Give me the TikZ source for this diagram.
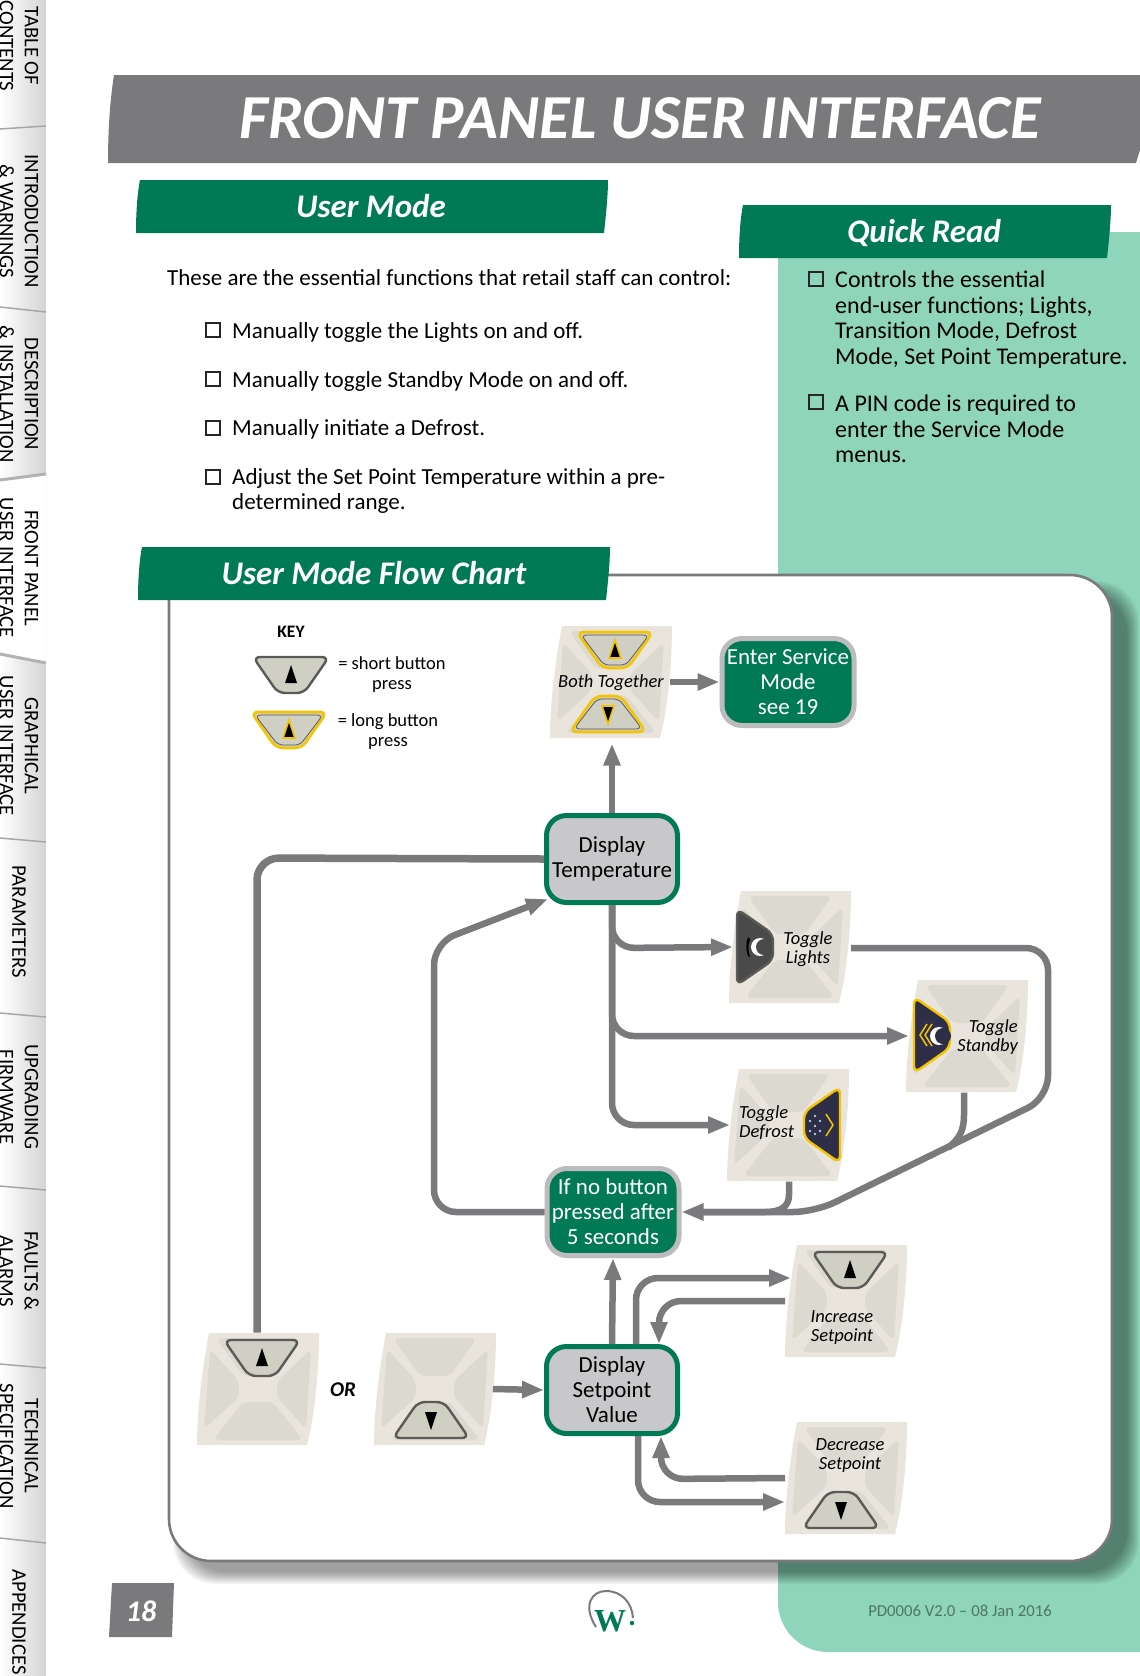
\documentclass[tikz,border=0pt]{standalone}
\usepackage{fontspec}
\setmainfont{Carlito}
\newfontfamily\logofont{Liberation Serif}
\usetikzlibrary{arrows.meta}

\definecolor{wgreen}{HTML}{007A54}
\definecolor{wmint}{HTML}{8FD5BB}
\definecolor{wgrey}{HTML}{7A7A7C}
\definecolor{wbox}{HTML}{C8C8CA}
\definecolor{wrim}{HTML}{BCBCBC}
\definecolor{padbeige}{HTML}{E9E5DC}
\definecolor{padgrey}{HTML}{DCDAD0}
\definecolor{keyface}{HTML}{CFCFC4}
\definecolor{keyrim}{HTML}{5A5A56}
\definecolor{keygold}{HTML}{F5C400}
\definecolor{keynavy}{HTML}{2E2E48}
\definecolor{keydark}{HTML}{4A4A4A}

\tikzset{
  pics/padbase/.style={code={
    \fill[padbeige] (-49,-56) .. controls (-55,-25) and (-61,20) .. (-61,56) -- (49,56) .. controls (57,25) and (61,-20) .. (61,-56) -- cycle;
    \fill[padgrey, rounded corners=6pt] (-42,-51) -- (42,-51) -- (15,-13) -- (-15,-13) -- cycle;
    \fill[padgrey, rounded corners=6pt] (-45,51) -- (45,51) -- (15,13) -- (-15,13) -- cycle;
    \fill[padgrey, rounded corners=6pt] (-48,-40) -- (-19,-8) -- (-19,8) -- (-54,40) -- cycle;
    \fill[padgrey, rounded corners=6pt] (53,-40) -- (19,-8) -- (19,8) -- (48,40) -- cycle;
  }},
  pics/shortkey/.style={code={
    \draw[draw=keyrim, line width=2.4pt, fill=keyface, rounded corners=7pt] (-38,-18) -- (38,-18) -- (13,18) -- (-13,18) -- cycle;
    \fill[black] (0,-10) -- (6,8) -- (-6,8) -- cycle;
  }},
  pics/longkey/.style={code={
    \draw[draw=keygold, line width=2.6pt, fill=keyface, rounded corners=7pt] (-38,-18) -- (38,-18) -- (13,18) -- (-13,18) -- cycle;
    \draw[draw=keyrim, line width=.8pt, rounded corners=5pt] (-34,-15) -- (34,-15) -- (11,15) -- (-11,15) -- cycle;
    \fill[black, draw=keygold, line width=1.6pt] (0,-10) -- (6,8) -- (-6,8) -- cycle;
  }},
  pics/sidekey/.style n args={2}{code={
    \draw[draw=#1, line width=2.4pt, fill=#2, rounded corners=7pt] (-38,-18) -- (38,-18) -- (13,18) -- (-13,18) -- cycle;
  }},
  pics/moon/.style={code={
    \fill[white] (0,0) circle (9pt);
    \fill[#1] (4,0) circle (8pt);
  }},
}

\begin{document}
\begin{tikzpicture}[
    x=1pt, y=-1pt,
    bodytext/.style={
      font=\fontsize{23}{25.4}\selectfont,
      anchor=west,
      align=left,
      inner sep=0pt
    },
    quicktext/.style={
      font=\fontsize{24}{25.4}\selectfont,
      anchor=west,
      align=left,
      inner sep=0pt
    },
    tickbox/.style={
      draw=black!85,
      line width=1.8pt,
      minimum size=14pt,
      inner sep=0pt
    },
    banner/.style={
      text=white,
      font=\fontsize{33}{36}\selectfont\bfseries\itshape
    },
    greybox/.style={
      draw=wgreen,
      fill=wbox,
      line width=5pt,
      rounded corners=20pt,
      minimum width=131pt,
      minimum height=87pt,
      align=center,
      inner sep=0pt,
      font=\fontsize{23}{25}\selectfont
    },
    greenbox/.style={
      draw=wrim,
      fill=wgreen,
      text=white,
      line width=5pt,
      rounded corners=20pt,
      minimum width=132pt,
      minimum height=87pt,
      align=center,
      inner sep=0pt,
      font=\fontsize{23}{25}\selectfont
    },
    padbox/.style={
      minimum width=122pt,
      minimum height=113pt,
      inner sep=0pt,
      outer sep=0pt
    },
    padlabel/.style={
      align=center,
      inner sep=0pt,
      font=\fontsize{18.5}{19}\selectfont\itshape
    },
    keytext/.style={
      align=center,
      inner sep=0pt,
      font=\fontsize{18.5}{19.5}\selectfont
    },
    link/.style={
      draw=wgrey,
      line width=6.5pt,
      rounded corners=22pt
    },
    linktip/.style={
      link,
      -{Triangle[length=22pt,width=16pt]}
    },
    tabtext/.style={
      rotate=-90,
      align=center,
      inner sep=0pt,
      font=\fontsize{20.7}{25}\selectfont
    }
  ]
  \useasboundingbox (0,0) rectangle (1140,1676);

  % side tabs
  \shade[left color=white, right color=black!17] (0,0) rectangle (46,1676);
  \fill[white] (0,480) -- (46,474) -- (46,663) -- (0,654) -- cycle;
  \foreach \tabline/\tabend in {129/126, 307/312, 838/842, 1013/1017, 1186/1190, 1364/1368, 1538/1543} {
    \draw[black!35, line width=1.5pt] (0,\tabline) -- (46,\tabend);
  }
  \draw[black!30, line width=3pt] (0,480) -- (46,474);
  \draw[black!30, line width=3pt] (0,654) -- (46,663);
  \foreach \tabname/\tabpos in {
      {TABLE OF\\CONTENTS}/46, {INTRODUCTION\\\& WARNINGS}/221, {DESCRIPTION\\\& INSTALLATION}/394,
      {FRONT PANEL\\USER INTERFACE}/568, {GRAPHICAL\\USER INTERFACE}/746, {PARAMETERS}/922,
      {UPGRADING\\FIRMWARE}/1097, {FAULTS \&\\ALARMS}/1271, {TECHNICAL\\SPECIFICATION}/1446, {APPENDICES}/1622} {
    \node[tabtext] (tab\tabpos) at (19,\tabpos) {\tabname};
  }

  % page panels
  \fill[wmint, rounded corners=50pt] (778,232) -- (1200,232) -- (1200,1652) -- (778,1652) -- cycle;
  \fill[wmint] (778,232) rectangle (1140,400);
  \foreach \blur in {1,...,13} {
    \fill[black, opacity=.035, rounded corners=42pt] (172+\blur,580+\blur) rectangle (1112+28-\blur,1561+24-\blur);
  }
  \draw[draw=wgrey, fill=white, line width=2.6pt] (169,575) [rounded corners=42pt] -- (1112,575) -- (1112,1561) -- (169,1561) [sharp corners] -- cycle;

  % title and banners
  \fill[wgrey] (114,75) .. controls (110,100) and (108,130) .. (108,163) -- (1136,163) -- (1140,150) -- (1140,75) -- cycle;
  \node[text=white, font=\fontsize{62.6}{64}\selectfont\bfseries\itshape] (title) at (640,118) {FRONT PANEL USER INTERFACE};
  \fill[wgreen] (140,180) .. controls (137,195) and (136,215) .. (136,233) -- (604,233) .. controls (606,215) and (608,195) .. (608,180) -- cycle;
  \node[banner] (usermode) at (371,206) {User Mode};
  \fill[wgreen] (743,205) .. controls (740,220) and (739,240) .. (739,258) -- (1107,258) .. controls (1109,240) and (1111,220) .. (1111,205) -- cycle;
  \node[banner] (quickread) at (924,233) {Quick Read};
  \fill[wgreen] (142,547) .. controls (139,562) and (138,582) .. (138,600) -- (606,600) .. controls (608,582) and (610,562) .. (610,547) -- cycle;
  \node[banner] (flowchart) at (374,573) {User Mode Flow Chart};

  % user mode text
  \node[bodytext] (intro) at (167,278) {These are the essential functions that retail staff can control:};
  \node[tickbox] (tick1) at (213,330) {};
  \node[bodytext] (item1) at (232,332) {Manually toggle the Lights on and off.};
  \node[tickbox] (tick2) at (213,379) {};
  \node[bodytext] (item2) at (232,381) {Manually toggle Standby Mode on and off.};
  \node[tickbox] (tick3) at (213,428) {};
  \node[bodytext] (item3) at (232,429.5) {Manually initiate a Defrost.};
  \node[tickbox] (tick4) at (213,477) {};
  \node[bodytext] (item4) at (232,491) {Adjust the Set Point Temperature within a pre-\\determined range.};

  % quick read text
  \node[tickbox] (quick1) at (816,279) {};
  \node[quicktext] (quickitem1) at (835,319.5) {Controls the essential\\end-user functions; Lights,\\Transition Mode, Defrost\\Mode, Set Point Temperature.};
  \node[tickbox] (quick2) at (816,402) {};
  \node[quicktext] (quickitem2) at (835,429) {A PIN code is required to\\enter the Service Mode\\menus.};

  % key
  \node[font=\fontsize{17.5}{19}\selectfont\bfseries] (key) at (291,632) {KEY};
  \pic at (291,675) {shortkey};
  \node[keytext] (shorttext) at (392,674.5) {= short button\\press};
  \pic at (289,730) {longkey};
  \node[keytext] (longtext) at (388,731.5) {= long button\\press};

  % flow boxes
  \node[greybox] (temperature) at (612,859) {Display\\Temperature};
  \node[greenbox] (service) at (788,682) {Enter Service\\Mode\\see 19};
  \node[greenbox] (nopress) at (613,1212) {If no button\\pressed after\\5 seconds};
  \node[greybox] (setpoint) at (612,1390) {Display\\Setpoint\\Value};

  % button pads
  \node[padbox] (both) at (611,682) {};
  \pic at (both) {padbase};
  \pic at (615,650) {longkey};
  \pic[rotate=180] at (608,714) {longkey};
  \node[padlabel] (bothtext) at (611,683) {Both Together};

  \node[padbox] (lights) at (790,947) {};
  \pic at (lights) {padbase};
  \pic[rotate=90] at (755,947) {sidekey={keyrim}{keydark}};
  \fill[black] (748,937) arc (160:200:28pt) -- (750,957) arc (200:160:26pt) -- cycle;
  \pic at (760,947) {moon=keydark};
  \node[padlabel] (lightstext) at (808,949) {Toggle\\Lights};

  \node[padbox] (standby) at (967,1036) {};
  \pic at (standby) {padbase};
  \pic[rotate=90] at (932,1035) {sidekey={keygold}{keynavy}};
  \draw[keygold, line width=1.5pt] (927,1024) -- (920,1035) -- (927,1046);
  \draw[keygold, line width=1.5pt] (932,1024) -- (925,1035) -- (932,1046);
  \pic at (939,1036) {moon=keynavy};
  \node[padlabel, anchor=east, align=right] (standbytext) at (1018,1037.5) {Toggle\\Standby};

  \node[padbox] (defrost) at (788,1125) {};
  \pic at (defrost) {padbase};
  \pic[rotate=-90] at (822,1125) {sidekey={keygold}{keynavy}};
  \draw[keygold, line width=1.5pt] (826,1114) -- (833,1125) -- (826,1136);
  \foreach \dotx/\doty in {815/1116, 810/1121, 820/1121, 815/1126, 810/1131, 820/1131, 815/1134} {
    \fill[black!25!cyan!40!white] (\dotx,\doty) circle (1.4pt);
  }
  \node[padlabel, anchor=west, align=left] (defrosttext) at (739,1123) {Toggle\\Defrost};

  \node[padbox] (increase) at (846,1301) {};
  \pic at (increase) {padbase};
  \pic at (850,1270) {shortkey};
  \node[padlabel] (increasetext) at (842,1328) {Increase\\Setpoint};

  \node[padbox] (decrease) at (846,1478) {};
  \pic at (decrease) {padbase};
  \pic[rotate=180] at (841,1510) {shortkey};
  \node[padlabel] (decreasetext) at (850,1456) {Decrease\\Setpoint};

  \node[padbox] (uppad) at (258,1389) {};
  \pic at (uppad) {padbase};
  \pic at (262,1358) {shortkey};

  \node[padbox] (downpad) at (435,1389) {};
  \pic at (downpad) {padbase};
  \pic[rotate=180] at (431,1420) {shortkey};

  \node[font=\fontsize{21}{22}\selectfont\bfseries\itshape] (ortext) at (343,1390) {OR};

  % connectors
  \draw[linktip] (temperature.north) -- ([xshift=1pt,yshift=-5pt]both.south);
  \draw[linktip] ([xshift=-2pt]both.east) -- (service.west);
  \draw[link, line width=7.5pt] (temperature.west) -- (257,858) -- (uppad.north -| 257,0);
  \draw[linktip] (nopress.west) -- (434,1212) -- (434,943) -- (548,899);
  \draw[linktip] (temperature.south) -- (612,948) -- ([xshift=4pt]lights.west);
  \draw[linktip] (temperature.south) -- (612,1036) -- ([xshift=3pt]standby.west);
  \draw[linktip] (temperature.south) -- (612,1125) -- ([xshift=3pt]defrost.west);
  \draw[linktip] (lights.east |- 0,948) -- (1048,948) -- (1048,1098) -- (815,1212) -- (nopress.east);
  \draw[link, sharp corners] (standby.south -| 964,0) -- (964,1115) .. controls (964,1130) and (960,1138) .. (948,1148);
  \draw[link, sharp corners] (defrost.south -| 789,0) -- (789,1195) .. controls (789,1207) and (780,1212) .. (765,1212) -- (700,1212);
  \draw[linktip] (setpoint.north) -- (nopress.south);
  \draw[linktip] ([xshift=24pt]setpoint.north) -- (636,1278) -- ([xshift=6pt,yshift=23pt]increase.west);
  \draw[linktip] (increase.west) -- (659,1301) -- ([xshift=47pt]setpoint.north);
  \draw[linktip] ([xshift=26pt]setpoint.south) -- (638,1502) -- ([yshift=-24pt]decrease.west);
  \draw[linktip] (decrease.west) -- (661,1479) -- ([xshift=49pt]setpoint.south);
  \draw[linktip] ([xshift=-3pt]downpad.east) -- (setpoint.west);

  % footer
  \fill[wgrey] (112,1583) -- (174,1583) -- (172,1637) -- (109,1637) -- cycle;
  \node[text=white, font=\fontsize{30}{30}\selectfont\bfseries\itshape] (pagenum) at (141,1611) {18};
  \draw[wgrey, line width=2pt] (596,1627) .. controls (582,1605) and (592,1591) .. (606,1591) .. controls (622,1591) and (632,1603) .. (633,1618);
  \node[text=wgreen, font=\fontsize{32}{32}\logofont\bfseries] (logo) at (610,1621) {W};
  \fill[wgreen] (632,1623) circle (2.2pt);
  \node[text=black!45!wmint, font=\fontsize{16.7}{18}\selectfont] (docref) at (960,1611) {PD0006 V2.0 -- 08 Jan 2016};
\end{tikzpicture}
\end{document}
